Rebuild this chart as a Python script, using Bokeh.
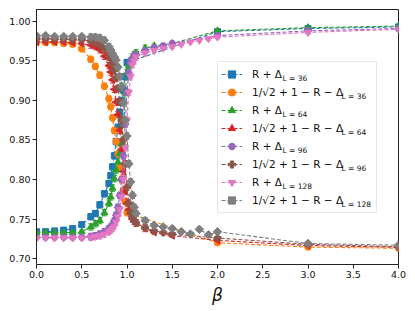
import math
from bokeh.plotting import figure
from bokeh.models import (ColumnDataSource, Whisker, TeeHead, Legend, LegendItem,
                          FixedTicker, PrintfTickFormatter, Label, Range1d)
from bokeh.embed import file_html
from bokeh.resources import INLINE

# ---------------- data ----------------
beta_36 = [0.0, 0.1, 0.2, 0.3, 0.4, 0.5, 0.6, 0.65, 0.7, 0.75, 0.8, 0.82, 0.84, 0.86,
           0.88, 0.9, 0.92, 0.94, 0.96, 0.98, 1.0, 2.0, 3.0, 4.0]
r_36 = [0.734, 0.734, 0.735, 0.736, 0.738, 0.743, 0.753, 0.757, 0.768, 0.782, 0.795,
        0.805, 0.816, 0.830, 0.848, 0.866, 0.885, 0.900, 0.913, 0.930, 0.948,
        0.987, 0.991, 0.993]
c_36 = [0.973, 0.973, 0.973, 0.972, 0.971, 0.965, 0.952, 0.943, 0.932, 0.918, 0.902,
        0.892, 0.878, 0.862, 0.848, 0.832, 0.815, 0.800, 0.786, 0.772, 0.758,
        0.720, 0.7145, 0.713]

beta_64 = [0.0, 0.1, 0.2, 0.3, 0.4, 0.5, 0.6, 0.65, 0.7, 0.75, 0.8, 0.82, 0.84, 0.86,
           0.88, 0.9, 0.92, 0.94, 0.96, 0.98, 1.0, 1.02, 1.04, 1.06, 1.08, 1.1, 1.2,
           1.3, 1.5, 2.0, 3.0, 4.0]
r_64 = [0.733, 0.733, 0.733, 0.733, 0.733, 0.734, 0.740, 0.744, 0.748, 0.758, 0.770,
        0.778, 0.789, 0.801, 0.812, 0.822, 0.833, 0.845, 0.870, 0.910, 0.935, 0.944,
        0.950, 0.955, 0.958, 0.960, 0.966, 0.969, 0.972, 0.988, 0.992, 0.994]
c_64 = [0.974, 0.974, 0.974, 0.974, 0.973, 0.972, 0.970, 0.968, 0.964, 0.956, 0.944,
        0.936, 0.926, 0.914, 0.898, 0.882, 0.862, 0.838, 0.810, 0.785, 0.770, 0.762,
        0.757, 0.750, 0.747, 0.745, 0.738, 0.733, 0.729, 0.723, 0.7165, 0.7143]

beta_96 = [0.0, 0.1, 0.2, 0.3, 0.4, 0.5, 0.6, 0.65, 0.7, 0.75, 0.8, 0.82, 0.84, 0.86,
           0.88, 0.9, 0.92, 0.94, 0.96, 0.98, 1.0, 1.02, 1.04, 1.06, 1.08, 1.1, 1.2,
           1.3, 1.4, 1.5, 2.0, 3.0, 4.0]
r_96 = [0.727, 0.727, 0.727, 0.727, 0.727, 0.727, 0.728, 0.729, 0.731, 0.734, 0.738,
        0.740, 0.743, 0.748, 0.755, 0.765, 0.780, 0.800, 0.830, 0.870, 0.910, 0.935,
        0.948, 0.953, 0.956, 0.958, 0.963, 0.967, 0.969, 0.972, 0.982, 0.988, 0.991]
c_96 = [0.978, 0.978, 0.978, 0.978, 0.977, 0.977, 0.975, 0.973, 0.970, 0.965, 0.957,
        0.952, 0.946, 0.938, 0.928, 0.915, 0.898, 0.875, 0.850, 0.820, 0.790, 0.770,
        0.758, 0.752, 0.748, 0.745, 0.739, 0.735, 0.733, 0.731, 0.726, 0.718, 0.715]

beta_128 = [0.0, 0.1, 0.2, 0.3, 0.4, 0.5, 0.6, 0.65, 0.7, 0.75, 0.8, 0.82, 0.84, 0.86,
            0.88, 0.9, 0.92, 0.94, 0.96, 0.98, 1.0, 1.02, 1.04, 1.06, 1.08, 1.1, 1.2,
            1.3, 1.4, 1.5, 1.6, 1.7, 1.8, 1.9, 2.0, 3.0, 4.0]
r_128 = [0.726, 0.726, 0.726, 0.726, 0.726, 0.726, 0.727, 0.728, 0.729, 0.731, 0.734,
         0.736, 0.738, 0.741, 0.746, 0.753, 0.762, 0.778, 0.800, 0.840, 0.875, 0.910,
         0.930, 0.945, 0.950, 0.955, 0.960, 0.963, 0.966, 0.968, 0.971, 0.974, 0.976,
         0.978, 0.980, 0.986, 0.990]
c_128 = [0.982, 0.982, 0.981, 0.981, 0.981, 0.981, 0.980, 0.980, 0.979, 0.976, 0.968,
         0.964, 0.959, 0.955, 0.951, 0.942, 0.930, 0.918, 0.897, 0.875, 0.855, 0.820,
         0.797, 0.780, 0.765, 0.757, 0.748, 0.742, 0.740, 0.738, 0.734, 0.731, 0.737,
         0.730, 0.734, 0.719, 0.717]

# error bar half-widths: small far from the transition, larger near it
err_far = 0.002
err_near = 0.004

labels_main = ["R + \u0394", "1/\u221a2 + 1 \u2212 R \u2212 \u0394"]
sizes = ["36", "64", "96", "128"]

colors = ["#1f77b4", "#ff7f0e", "#2ca02c", "#d62728",
          "#9467bd", "#8c564b", "#e377c2", "#7f7f7f"]
markers = ["square", "circle", "triangle", "triangle",
           "hex", "plus", "inverted_triangle", "square"]
angles = [0, 0, 0, math.pi / 2, 0, 0, 0, math.pi / 4]
msizes = [6, 6.5, 7, 7, 7, 7, 7, 6]

series = [
    (beta_36, r_36), (beta_36, c_36),
    (beta_64, r_64), (beta_64, c_64),
    (beta_96, r_96), (beta_96, c_96),
    (beta_128, r_128), (beta_128, c_128),
]

# ---------------- figure ----------------
p = figure(width=415, height=311, output_backend="svg", toolbar_location=None,
           x_range=Range1d(0.0, 4.0), y_range=Range1d(0.6925, 1.015),
           min_border_left=36, min_border_right=17, min_border_top=9,
           min_border_bottom=47)
p.xgrid.visible = False
p.ygrid.visible = False
p.outline_line_color = "#222222"
p.outline_line_width = 1
p.background_fill_color = "white"
p.border_fill_color = "white"

for ax in (p.xaxis[0], p.yaxis[0]):
    ax.axis_line_color = "#222222"
    ax.major_tick_line_color = "#222222"
    ax.minor_tick_line_color = None
    ax.major_tick_out = 4
    ax.major_tick_in = 0
    ax.major_label_standoff = 2
    ax.major_label_text_font = "DejaVu Sans"
    ax.major_label_text_font_size = "9.5px"
    ax.major_label_text_color = "#111111"

p.xaxis[0].ticker = FixedTicker(ticks=[0, 0.5, 1.0, 1.5, 2.0, 2.5, 3.0, 3.5, 4.0])
p.xaxis[0].formatter = PrintfTickFormatter(format="%.1f")
p.yaxis[0].ticker = FixedTicker(ticks=[0.70, 0.75, 0.80, 0.85, 0.90, 0.95, 1.00])
p.yaxis[0].formatter = PrintfTickFormatter(format="%.2f")
p.xaxis[0].axis_label = "\u03b2"
p.xaxis[0].axis_label_text_font = "DejaVu Sans"
p.xaxis[0].axis_label_text_font_style = "italic"
p.xaxis[0].axis_label_text_font_size = "17px"
p.xaxis[0].axis_label_standoff = 4
p.xaxis[0].axis_label_text_color = "#111111"

items = []
for i, (bx, vals) in enumerate(series):
    err = [err_near if 0.55 < b < 1.25 else err_far for b in bx]
    src = ColumnDataSource(dict(x=bx, y=vals,
                                lo=[v - e for v, e in zip(vals, err)],
                                hi=[v + e for v, e in zip(vals, err)]))
    col = colors[i]
    ln = p.line("x", "y", source=src, line_color=col, line_width=1.1,
                line_dash="4 2")
    wh = Whisker(base="x", lower="lo", upper="hi", source=src, dimension="height",
                 line_color=col, line_width=1,
                 upper_head=TeeHead(size=5, line_color=col, line_width=1),
                 lower_head=TeeHead(size=5, line_color=col, line_width=1))
    p.add_layout(wh)
    sc = p.scatter("x", "y", source=src, marker=markers[i], size=msizes[i],
                   angle=angles[i], fill_color=col, line_color=col)
    items.append(LegendItem(label=labels_main[i % 2], renderers=[ln, sc]))

legend = Legend(items=items, location=(181, 51), margin=0, padding=3, spacing=0,
                glyph_height=18, glyph_width=21, label_height=18,
                label_standoff=10, label_width=121,
                label_text_font="DejaVu Sans", label_text_font_size="10.5px",
                label_text_color="#111111",
                border_line_color="#cccccc", border_line_width=1,
                background_fill_alpha=0.0)
p.add_layout(legend, "center")

# subscripts of the legend labels
for i in range(8):
    sub = "L = " + sizes[i // 2]
    xs = 246 if i % 2 == 0 else 305
    ys = 186 - 18 * i
    p.add_layout(Label(x=xs, y=ys, x_units="screen", y_units="screen", text=sub,
                       text_font="DejaVu Sans", text_font_size="7.5px",
                       text_baseline="middle", text_color="#111111",
                       level="overlay"))

open("out.html", "w").write(file_html(p, INLINE))
